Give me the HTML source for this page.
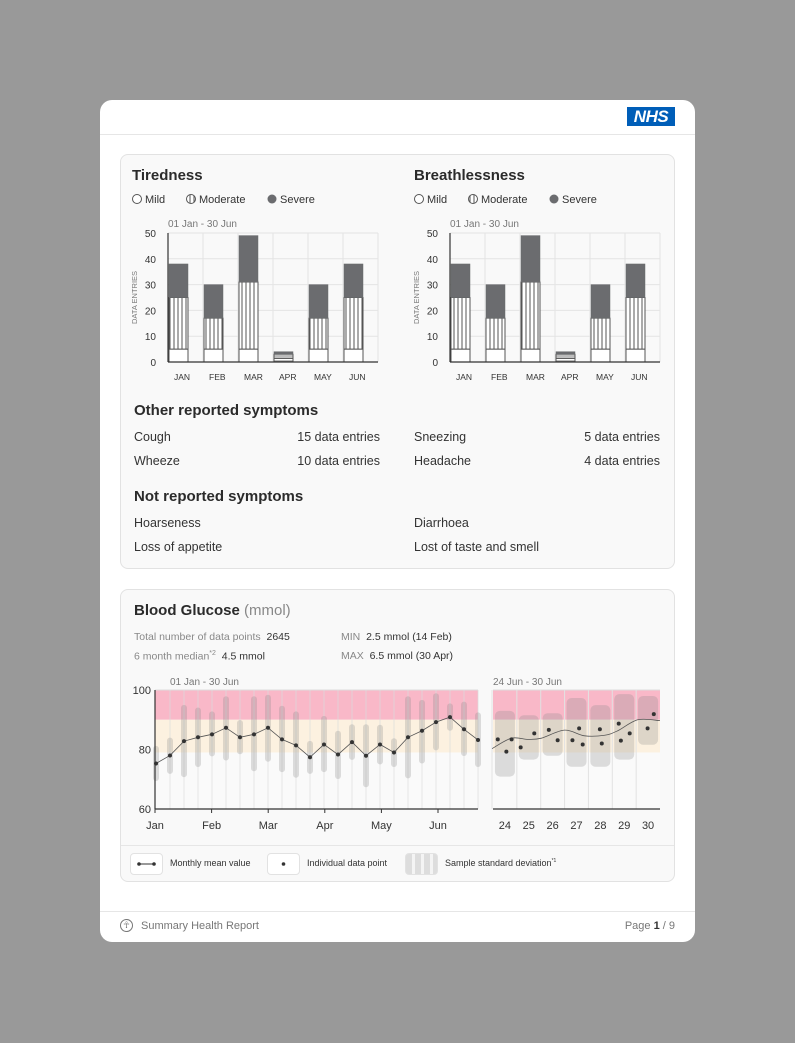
<!DOCTYPE html>
<html><head><meta charset="utf-8">
<style>
*{margin:0;padding:0;box-sizing:border-box}
body{width:795px;height:1043px;background:#999;font-family:"Liberation Sans",sans-serif;position:relative;overflow:hidden;color:#2b2b2b}
.abs{position:absolute;white-space:nowrap}
.page{position:absolute;left:100px;top:100px;width:595px;height:842px;background:#fff;border-radius:12px}
.card{position:absolute;background:#f9f9f9;border:1px solid #e2e2e2;border-radius:8px}
.h{font-weight:bold;font-size:15px;color:#2b2b2b}
.t{font-size:12.5px;color:#333}
.s{font-size:11px;color:#777}
.lg{font-size:10.5px;color:#333}
</style></head>
<body>
<div class="page"></div>
<div class="abs" style="left:100px;top:134px;width:595px;height:1px;background:#e6e6e6"></div>
<div class="abs" style="left:627px;top:107px;width:48px;height:19px;background:#005eb8;color:#fff;font-weight:bold;font-style:italic;font-size:17px;line-height:19px;text-align:center;letter-spacing:-0.5px">NHS</div>

<div class="card" style="left:120px;top:154px;width:555px;height:415px"></div>
<div class="card" style="left:120px;top:589px;width:555px;height:293px"></div>
<div class="abs" style="left:121px;top:845px;width:553px;height:1px;background:#e6e6e6"></div>

<div class="abs h" style="left:132px;top:167px">Tiredness</div>
<div class="abs h" style="left:414px;top:167px">Breathlessness</div>

<div class="abs h" style="left:134px;top:402px">Other reported symptoms</div>
<div class="abs t" style="left:134px;top:430px">Cough</div>
<div class="abs t" style="left:280px;top:430px;width:100px;text-align:right">15 data entries</div>
<div class="abs t" style="left:134px;top:454px">Wheeze</div>
<div class="abs t" style="left:280px;top:454px;width:100px;text-align:right">10 data entries</div>
<div class="abs t" style="left:414px;top:430px">Sneezing</div>
<div class="abs t" style="left:540px;top:430px;width:120px;text-align:right">5 data entries</div>
<div class="abs t" style="left:414px;top:454px">Headache</div>
<div class="abs t" style="left:540px;top:454px;width:120px;text-align:right">4 data entries</div>

<div class="abs h" style="left:134px;top:488px">Not reported symptoms</div>
<div class="abs t" style="left:134px;top:516px">Hoarseness</div>
<div class="abs t" style="left:134px;top:540px">Loss of appetite</div>
<div class="abs t" style="left:414px;top:516px">Diarrhoea</div>
<div class="abs t" style="left:414px;top:540px">Lost of taste and smell</div>

<div class="abs" style="left:134px;top:602px;font-size:15px"><b>Blood Glucose</b> <span style="color:#888">(mmol)</span></div>
<div class="abs" style="left:134px;top:631px;font-size:10.5px;color:#888">Total number of data points&nbsp; <span style="color:#333">2645</span></div>
<div class="abs" style="left:134px;top:650px;font-size:10.5px;color:#888">6 month median<sup style="font-size:7px">*2</sup>&nbsp; <span style="color:#333">4.5 mmol</span></div>
<div class="abs" style="left:341px;top:631px;font-size:10.5px;color:#888">MIN&nbsp; <span style="color:#333">2.5 mmol (14 Feb)</span></div>
<div class="abs" style="left:341px;top:650px;font-size:10.5px;color:#888">MAX&nbsp; <span style="color:#333">6.5 mmol (30 Apr)</span></div>

<div class="abs" style="left:130px;top:853px;width:33px;height:22px;border:1px solid #e2e2e2;border-radius:4px;background:#fff">
<svg width="31" height="20"><line x1="8" y1="10" x2="23" y2="10" stroke="#333" stroke-width="1"/><circle cx="8" cy="10" r="1.8" fill="#333"/><circle cx="23" cy="10" r="1.8" fill="#333"/></svg></div>
<div class="abs lg" style="left:170px;top:858px;font-size:9px">Monthly mean value</div>
<div class="abs" style="left:267px;top:853px;width:33px;height:22px;border:1px solid #e2e2e2;border-radius:4px;background:#fff">
<svg width="31" height="20"><circle cx="15.5" cy="10" r="1.8" fill="#333"/></svg></div>
<div class="abs lg" style="left:307px;top:858px;font-size:9px">Individual data point</div>
<div class="abs" style="left:405px;top:853px;width:33px;height:22px;border:1px solid #e2e2e2;border-radius:4px;background:repeating-linear-gradient(90deg,#ddd 0 6px,#f4f4f4 6px 9px)"></div>
<div class="abs lg" style="left:445px;top:858px;font-size:9px">Sample standard deviation<sup style="font-size:5px">*1</sup></div>

<div class="abs" style="left:100px;top:911px;width:595px;height:1px;background:#e6e6e6"></div>
<div class="abs" style="left:120px;top:919px;width:13px;height:13px;border:1px solid #777;border-radius:50%;font-size:9px;line-height:11px;text-align:center;color:#777">☥</div>
<div class="abs" style="left:141px;top:920px;font-size:11px;color:#777">Summary Health Report</div>
<div class="abs" style="left:575px;top:920px;width:100px;text-align:right;font-size:11px;color:#777">Page <b style="color:#333">1</b> / 9</div>

<svg id="charts" class="abs" style="left:0;top:0" width="795" height="1043">
<defs>
<pattern id="vstripe" width="4" height="4" patternUnits="userSpaceOnUse"><rect width="4" height="4" fill="#fff"/><line x1="2" y1="0" x2="2" y2="4" stroke="#555" stroke-width="1"/></pattern>
<pattern id="hstripe" width="4" height="2.5" patternUnits="userSpaceOnUse"><rect width="4" height="2.5" fill="#fff"/><line x1="0" y1="1" x2="4" y2="1" stroke="#555" stroke-width="0.8"/></pattern>
</defs>
</svg>

<script>
// ----- symptom bar charts data -----
const months = ["JAN","FEB","MAR","APR","MAY","JUN"];
const tiredMild = [5,5,5,1.5,5,5];
const tiredModerate = [20,12,26,1.5,12,20];
const tiredSevere = [13,13,18,1,13,13];
const breathMild = [5,5,5,1.5,5,5];
const breathModerate = [20,12,26,1.5,12,20];
const breathSevere = [13,13,18,1,13,13];
const barTicks = [0,10,20,30,40,50];

// ----- blood glucose main chart data -----
const glucoseMonths = ["Jan","Feb","Mar","Apr","May","Jun"];
const glucoseTicks = [60,80,100];
const weeklyMean = [75.3,78.0,82.8,84.1,85.1,87.3,84.1,85.1,87.3,83.4,81.4,77.4,81.7,78.3,82.5,77.9,81.7,79.0,84.1,86.3,89.2,90.9,86.8,83.2];
const weeklySdHigh = [81.2,84,95,94.1,92.8,97.9,89.9,97.9,98.4,94.7,92.8,82.9,91.3,86.3,88.5,88.5,88.3,83.8,97.9,96.7,98.9,95.5,96.1,92.5];
const weeklySdLow = [69.4,71.8,70.7,74.1,77.7,76.3,78.4,72.7,75.9,72.4,70.5,71.8,72.4,70.1,76.5,67.3,75,74.1,70.3,75.3,79.7,86.3,77.8,74.1];

// ----- last week chart data -----
const days = [24,25,26,27,28,29,30];
const daySdHigh = [93.0,91.5,92.2,97.3,94.9,98.6,98.0];
const daySdLow = [70.9,76.6,77.9,74.2,74.2,76.6,81.6];
const pointDay = [23.70,24.06,24.28,24.66,25.23,25.84,26.21,26.83,27.11,27.26,27.98,28.06,28.77,28.86,29.23,29.98,30.24];
const pointValue = [83.4,79.3,83.4,80.7,85.4,86.6,83.1,83.1,87.1,81.7,86.8,82.0,88.7,83.0,85.4,87.1,91.9];
const trendDay = [23.46,24.27,24.97,25.53,26.5,27.34,28.18,28.73,29.57,30.5];
const trendValue = [80.3,83.8,83.4,83.8,86.5,84.6,84.8,86.3,90.0,89.7];

const svg = document.getElementById('charts');
const NS = 'http://www.w3.org/2000/svg';
function mk(tag, attrs, parent){const e=document.createElementNS(NS,tag);for(const k in attrs)e.setAttribute(k,attrs[k]);(parent||svg).appendChild(e);return e;}
function txt(x,y,s,attrs){const e=mk('text',Object.assign({x:x,y:y,'font-family':'Liberation Sans, sans-serif'},attrs));e.textContent=s;return e;}

function barChart(ox, mild, moderate, severe, prefix){
  const x0=ox, top=233, bot=362, w=210, cw=35;
  const y=v=>bot-(v/50)*(bot-top);
  const g=mk('g',{});
  
  
  // legend
  const lx=ox-36;
  mk('circle',{cx:lx+5,cy:199,r:4.5,fill:'#fff',stroke:'#555','stroke-width':1},g);
  txt(lx+13,203,'Mild',{'font-size':11,fill:'#333'});
  mk('circle',{cx:lx+59,cy:199,r:4.5,fill:'url(#vstripe)',stroke:'#555','stroke-width':1},g);
  txt(lx+67,203,'Moderate',{'font-size':11,fill:'#333'});
  mk('circle',{cx:lx+140,cy:199,r:4.5,fill:'#6b6c6f'},g);
  txt(lx+148,203,'Severe',{'font-size':11,fill:'#333'});
  txt(ox,227,'01 Jan - 30 Jun',{'font-size':10,fill:'#777'});
  // grid
  barTicks.forEach(t=>{
    mk('line',{x1:x0,x2:x0+w,y1:y(t),y2:y(t),stroke:'#e4e4e4','stroke-width':1},g);
    const lab=txt(x0-12,y(t)+4,String(t),{'font-size':10,fill:'#333','text-anchor':'end'});
  });
  for(let i=1;i<=6;i++) mk('line',{x1:x0+i*cw,x2:x0+i*cw,y1:top,y2:bot,stroke:'#e4e4e4'},g);
  const at=txt(0,0,'DATA ENTRIES',{'font-size':7.5,fill:'#777','text-anchor':'middle',transform:`translate(${x0-31},${(top+bot)/2}) rotate(-90)`});
  months.forEach((m,i)=>{
    const bx=x0+i*cw+1, bw=19;
    const a=mild[i], b=a+moderate[i], c=b+severe[i];
    const isSmall = c<8;
    const r1=mk('rect',{x:bx,y:y(a),width:bw,height:y(0)-y(a),fill:isSmall?'url(#hstripe)':'#fff',stroke:'#555','stroke-width':1},g);
    
    
    const r2=mk('rect',{x:bx,y:y(b),width:bw,height:y(a)-y(b),fill:isSmall?'url(#hstripe)':'url(#vstripe)',stroke:'#555','stroke-width':1},g);
    
    
    const r3=mk('rect',{x:bx,y:y(c),width:bw,height:y(b)-y(c),fill:'#6b6c6f',stroke:'#6b6c6f','stroke-width':0.5},g);
    
    
    txt(x0+i*cw+6,380,m,{'font-size':8.5,fill:'#333'});
  });
  mk('line',{x1:x0,x2:x0,y1:top,y2:bot,stroke:'#333','stroke-width':1.2},g);
  mk('line',{x1:x0,x2:x0+w,y1:bot,y2:bot,stroke:'#333','stroke-width':1.2},g);
}
barChart(168,tiredMild,tiredModerate,tiredSevere,'tiredness');
barChart(450,breathMild,breathModerate,breathSevere,'breathlessness');

// main glucose chart
(function(){
  const L=155,R=478,T=690,B=809;
  const y=v=>B-(v-60)/40*(B-T);
  const x=i=>156+i*14;
  const g=mk('g',{});
  
  
  txt(170,685,'01 Jan - 30 Jun',{'font-size':10,fill:'#777'});
  mk('rect',{x:L,y:y(100),width:R-L,height:y(90)-y(100),fill:'#f9b8c8'},g);
  mk('rect',{x:L,y:y(90),width:R-L,height:y(79)-y(90),fill:'#fcf1e0'},g);
  mk('rect',{x:L,y:y(79),width:R-L,height:y(60)-y(79),fill:'#fafafa'},g);
  for(let i=0;i<24;i++) mk('line',{x1:x(i)+14,x2:x(i)+14,y1:T,y2:B,stroke:'rgba(220,220,220,0.7)'},g);
  mk('line',{x1:L,x2:R,y1:T,y2:T,stroke:'#ddd'},g);
  weeklyMean.forEach((v,i)=>{
    const r=mk('rect',{x:x(i)-3,y:y(weeklySdHigh[i]),width:6,height:y(weeklySdLow[i])-y(weeklySdHigh[i]),rx:3,fill:'rgba(140,140,140,0.28)'},g);
    
    
  });
  mk('polyline',{points:weeklyMean.map((v,i)=>x(i)+','+y(v)).join(' '),fill:'none',stroke:'#555','stroke-width':0.8},g);
  weeklyMean.forEach((v,i)=>{
    const c=mk('circle',{cx:x(i),cy:y(v),r:2,fill:'#333'},g);
    
    
  });
  glucoseTicks.forEach(t=>txt(151,y(t)+4,String(t),{'font-size':11,fill:'#333','text-anchor':'end'}));
  glucoseMonths.forEach((m,i)=>{
    const mx=155+i*56.6;
    mk('line',{x1:mx,x2:mx,y1:B,y2:B+4,stroke:'#333'},g);
    txt(mx,829,m,{'font-size':11,fill:'#333','text-anchor':'middle'});
  });
  mk('line',{x1:L,x2:L,y1:T,y2:B,stroke:'#333','stroke-width':1.2},g);
  mk('line',{x1:L,x2:R,y1:B,y2:B,stroke:'#333','stroke-width':1.2},g);
})();

// last week chart
(function(){
  const L=493,R=660,T=690,B=809,dw=(R-L)/7;
  const y=v=>B-(v-60)/40*(B-T);
  const x=d=>L+(d-23.5)*dw;
  const g=mk('g',{});
  
  
  txt(493,685,'24 Jun - 30 Jun',{'font-size':10,fill:'#777'});
  mk('rect',{x:L,y:y(100),width:R-L,height:y(90)-y(100),fill:'#f9b8c8'},g);
  mk('rect',{x:L,y:y(90),width:R-L,height:y(79)-y(90),fill:'#fcf1e0'},g);
  mk('rect',{x:L,y:y(79),width:R-L,height:y(60)-y(79),fill:'#fafafa'},g);
  mk('line',{x1:L,x2:R,y1:T,y2:T,stroke:'#ddd'},g);
  days.forEach((d,i)=>{
    if(i>0) mk('line',{x1:x(d)-dw/2,x2:x(d)-dw/2,y1:T,y2:B,stroke:'#e2e2e2'},g);
    const r=mk('rect',{x:x(d)-10,y:y(daySdHigh[i]),width:20,height:y(daySdLow[i])-y(daySdHigh[i]),rx:5,fill:'rgba(140,140,140,0.28)'},g);
    
    
    txt(x(d),829,String(d),{'font-size':11,fill:'#333','text-anchor':'middle'});
  });
  // smooth trend
  const pts=trendDay.map((d,i)=>[x(d),y(trendValue[i])]);
  let p='M'+pts[0][0]+','+pts[0][1];
  for(let i=0;i<pts.length-1;i++){
    const p0=pts[Math.max(0,i-1)],p1=pts[i],p2=pts[i+1],p3=pts[Math.min(pts.length-1,i+2)];
    const c1=[p1[0]+(p2[0]-p0[0])/6,p1[1]+(p2[1]-p0[1])/6];
    const c2=[p2[0]-(p3[0]-p1[0])/6,p2[1]-(p3[1]-p1[1])/6];
    p+=` C${c1[0]},${c1[1]} ${c2[0]},${c2[1]} ${p2[0]},${p2[1]}`;
  }
  mk('path',{d:p,fill:'none',stroke:'#555','stroke-width':0.8},g);
  pointDay.forEach((d,i)=>{
    const c=mk('circle',{cx:x(d),cy:y(pointValue[i]),r:2,fill:'#333'},g);
    
    
  });
  mk('line',{x1:L,x2:R,y1:B,y2:B,stroke:'#333','stroke-width':1.2},g);
})();
</script>
</body></html>
